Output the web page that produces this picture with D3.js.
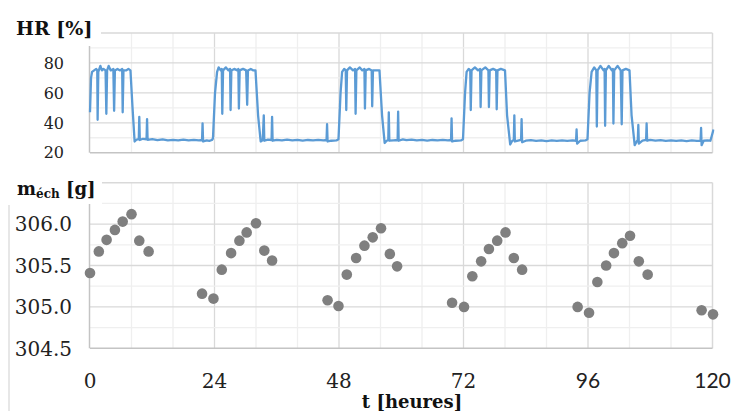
<!DOCTYPE html>
<html><head><meta charset="utf-8">
<script src="https://cdn.jsdelivr.net/npm/d3@7"></script>
<style>body{margin:0;background:#fff}svg{display:block}</style>
</head><body>
<svg id="c" width="733" height="411"></svg>
<script>
// ---------- data ----------
const timeTicks = [0, 24, 48, 72, 96, 120];
const timeGrid = [8, 16, 24, 32, 40, 48, 56, 64, 72, 80, 88, 96, 104, 112];
const hrTicks = [20, 40, 60, 80];
const hrGrid = [30, 40, 50, 60, 70, 80, 90];
const massTicks = [304.5, 305.0, 305.5, 306.0];
const massGrid = [304.75, 305.0, 305.25, 305.5, 305.75, 306.0, 306.25];

const massTime  = [0, 1.7, 3.2, 4.8, 6.3, 8.0, 9.5, 11.3,
                   21.6, 23.8, 25.4, 27.2, 28.8, 30.2, 32.0, 33.6, 35.1,
                   45.8, 47.9, 49.5, 51.3, 52.9, 54.5, 56.1, 57.8, 59.2,
                   69.8, 72.1, 73.7, 75.4, 76.9, 78.5, 80.1, 81.7, 83.3,
                   94.0, 96.2, 97.8, 99.5, 101.0, 102.6, 104.1, 105.8, 107.5,
                   117.9, 120.1];
const massValue = [305.41, 305.67, 305.81, 305.93, 306.03, 306.12, 305.80, 305.67,
                   305.16, 305.10, 305.45, 305.65, 305.80, 305.90, 306.01, 305.68, 305.56,
                   305.08, 305.01, 305.39, 305.59, 305.74, 305.84, 305.95, 305.64, 305.49,
                   305.05, 305.00, 305.37, 305.55, 305.70, 305.80, 305.90, 305.59, 305.45,
                   305.00, 304.93, 305.30, 305.50, 305.65, 305.77, 305.86, 305.55, 305.39,
                   304.96, 304.91];

// HR [%] trace: [t (h), HR]
const hrPoints = [
 [0,47],[0.2,70],[0.4,74],[0.8,75],[1.2,76],[1.4,75],[1.47,42],[1.6,74],[2.0,78],[2.3,75],[2.6,76],[3.0,75],
 [3.15,46],[3.3,75],[3.6,78],[4.0,75],[4.5,76],[4.65,48],[4.8,75],[5.3,76],[5.8,75],[6.2,76],[6.3,47],[6.45,75],
 [7.0,75],[7.4,76],[7.8,75],[8.2,50],[8.6,27.5],[9.0,28.8],[9.4,29],[9.5,44],[9.6,28.5],[10.2,29.3],[10.9,29],
 [11.0,42.5],[11.1,28.6],[12,29],[13,28.4],[14,28.9],[15,28.3],[16,28.6],[17,28.2],[18,28.7],[19,28.3],[20,28.6],
 [21,28.3],[21.6,28.5],[21.7,39.6],[21.8,27.5],[22.5,28.2],[23.0,27.9],[23.5,28.5],[23.7,29.5],[24.1,60],[24.5,74],
 [24.8,77],[25.2,75],[25.4,76],[25.5,46],[25.65,75],[26.2,77],[26.7,75],[27.0,76],[27.1,48.5],[27.25,75],[27.8,76],
 [28.4,75],[28.6,76],[28.7,49.5],[28.85,75],[29.5,76],[30.1,75],[30.3,52],[30.45,75],[31.0,76],[31.5,75],[31.9,75],
 [32.4,45],[32.9,27.5],[33.3,28.5],[33.5,45],[33.6,28],[34.3,28.7],[35.0,28.5],[35.1,44],[35.2,28],[36,28.6],
 [37,28.2],[38,28.7],[39,28.3],[40,28.6],[41,28.1],[42,28.5],[43,28.2],[44,28.6],[45,28.3],[45.6,28.5],[45.7,39],
 [45.8,27.5],[46.5,28],[47.5,28.2],[47.9,29],[48.3,60],[48.6,74],
 [49.0,76],[49.3,75],[49.4,48.5],[49.55,75],[50.1,77],[50.7,75],[51.1,76],[51.2,46],[51.35,75],[52.0,77],[52.5,75],
 [52.9,76],[53.0,49.5],[53.15,75],[53.8,76],[54.3,75],[54.4,51],[54.55,75],[55.2,75],[55.8,75],[56.3,45],[56.8,26.5],
 [57.2,28],[57.5,28.5],[57.6,47],[57.7,28],[58.5,28.3],[59.3,28.5],[59.4,47.5],[59.5,28],[60.3,28.9],[61,28.4],
 [62,28.7],[63,28.2],[64,28.6],[65,28.1],[66,28.5],[67,28.2],[68,28.6],[69,28.3],[69.6,28.5],[69.7,43],[69.8,27.5],
 [70.5,28],[71.5,28.2],[71.9,29],[72.3,60],[72.6,74],
 [73.0,76],[73.3,75],[73.4,48.5],[73.55,75],[74.2,77],[74.8,75],[75.2,76],[75.3,50.5],[75.45,75],[76.2,77],[76.8,75],
 [76.9,50.5],[77.05,75],[77.7,76],[78.3,75],[78.4,49],[78.55,75],[79.2,76],[80.0,75],[80.4,45],[81.0,25.5],[81.4,28],
 [81.7,28.5],[81.8,45],[81.9,27.5],[82.5,28],[83.1,28.5],[83.2,42.5],[83.3,27],[84,28],[85,28.4],[86,27.9],[87,28.3],
 [88,27.8],[89,28.2],[90,27.9],[91,28.3],[92,27.9],[93,28.2],[93.7,28],[93.8,35.5],[93.9,26],[94.5,28],[95.5,28.2],
 [95.9,29],[96.3,60],[96.7,74],
 [97.2,77],[97.6,75],[97.7,37.5],[97.85,75],[98.4,78],[99.0,75],[99.2,76],[99.3,38],[99.45,75],[100.0,78],[100.6,75],
 [100.8,76],[100.9,39.5],[101.05,75],[101.7,78],[102.3,75],[102.5,39],[102.65,75],[103.3,76],[104.0,75],[104.4,45],
 [105.0,25],[105.4,27.5],[105.6,28.5],[105.7,38.5],[105.8,26],[106.5,28],[107.2,28.5],[107.3,39.5],[107.4,28],
 [108,28.5],[109,28.1],[110,28.4],[111,27.9],[112,28.3],[113,27.9],[114,28.2],[115,27.8],[116,28.2],[117,27.9],
 [117.7,28],[117.8,36.5],[117.9,25],[118.3,28],[119.0,28.2],[119.6,28],[120.2,35.5]
];

// ---------- drawing ----------
const svg = d3.select('#c');
const x = d3.scaleLinear().domain([0, 120]).range([90, 712.5]);
const yHR = d3.scaleLinear().domain([20, 100]).range([152.7, 33]);
const yM = d3.scaleLinear().domain([304.5, 306.5]).range([348.3, 182.7]);

const MAJ = '#d9d9d9', MIN = '#efefef', AX = '#c4c4c4';
const serif = '"DejaVu Serif", serif';

function panel(y, grid, isMajor) {
  const g = svg.append('g');
  const [y0, y1] = y.range();
  g.selectAll('.vg').data(timeGrid).join('line')
    .attr('x1', d => x(d)).attr('x2', d => x(d)).attr('y1', y1).attr('y2', y0)
    .attr('stroke', d => d % 24 === 0 ? MAJ : MIN).attr('stroke-width', 1.3);
  g.selectAll('.hg').data(grid).join('line')
    .attr('x1', x(0)).attr('x2', x(120)).attr('y1', d => y(d)).attr('y2', d => y(d))
    .attr('stroke', d => isMajor(d) ? MAJ : MIN).attr('stroke-width', 1.3);
  g.append('line').attr('x1', x(0)).attr('x2', x(120)).attr('y1', y1).attr('y2', y1).attr('stroke', MAJ).attr('stroke-width', 1.5);
  g.append('line').attr('x1', x(120)).attr('x2', x(120)).attr('y1', y1).attr('y2', y0).attr('stroke', MAJ).attr('stroke-width', 1.5);
  g.append('line').attr('x1', x(0)).attr('x2', x(120)).attr('y1', y0).attr('y2', y0).attr('stroke', AX).attr('stroke-width', 1.5);
  g.append('line').attr('x1', x(0) - 0.5).attr('x2', x(0) - 0.5).attr('y1', y1).attr('y2', y0).attr('stroke', AX).attr('stroke-width', 1.5);
  return g;
}

panel(yHR, hrGrid, d => d % 20 === 0);
panel(yM, massGrid, d => Math.abs(d * 2 - Math.round(d * 2)) < 1e-6);

// HR line
svg.append('clipPath').attr('id', 'clipHR').append('rect')
  .attr('x', x(0) - 2).attr('y', yHR(100)).attr('width', x(120) - x(0) + 4).attr('height', yHR(20) - yHR(100));
svg.append('path').datum(hrPoints)
  .attr('clip-path', 'url(#clipHR)')
  .attr('fill', 'none').attr('stroke', '#5b9bd5').attr('stroke-width', 2.3)
  .attr('stroke-linejoin', 'round')
  .attr('d', d3.line().x(d => x(d[0])).y(d => yHR(d[1])));

// mass points
svg.append('g').selectAll('circle').data(massTime).join('circle')
  .attr('cx', d => x(d)).attr('cy', (d, i) => yM(massValue[i])).attr('r', 5.3)
  .attr('fill', '#7f7f7f');

// title boxes (white)
svg.append('rect').attr('x', 10).attr('y', 8).attr('width', 91).attr('height', 38).attr('fill', '#fff');
svg.append('rect').attr('x', 10).attr('y', 170).attr('width', 92).attr('height', 34).attr('fill', '#fff');

// stray vertical line at far left of the lower panel
svg.append('line').attr('x1', 9).attr('x2', 9).attr('y1', 205).attr('y2', 411).attr('stroke', '#cfcfcf').attr('stroke-width', 1);

// y tick labels
svg.append('g').selectAll('text').data(hrTicks).join('text')
  .attr('x', 64).attr('y', d => yHR(d)).attr('dy', '0.36em')
  .attr('text-anchor', 'end').attr('font-family', serif).attr('font-size', 16).attr('fill', '#222')
  .text(d => d);
svg.append('g').selectAll('text').data(massTicks).join('text')
  .attr('x', 72).attr('y', d => yM(d)).attr('dy', '0.36em')
  .attr('text-anchor', 'end').attr('font-family', serif).attr('font-size', 20).attr('fill', '#222')
  .text(d => d.toFixed(1));
// x tick labels
svg.append('g').selectAll('text').data(timeTicks).join('text')
  .attr('x', d => x(d)).attr('y', 380.5).attr('dy', '0.36em')
  .attr('text-anchor', 'middle')
  .attr('font-family', d => d >= 96 ? 'Lato, "Noto Sans", sans-serif' : serif)
  .attr('font-size', d => d >= 96 ? 21 : 20).attr('fill', '#222')
  .text(d => d);

// titles
svg.append('text').attr('x', 16).attr('y', 35).attr('font-family', serif).attr('font-weight', 'bold')
  .attr('font-size', 19).attr('fill', '#111').text('HR [%]');
const mt = svg.append('text').attr('x', 17).attr('y', 195).attr('font-family', serif).attr('font-weight', 'bold')
  .attr('font-size', 18).attr('fill', '#111');
mt.append('tspan').text('m');
mt.append('tspan').attr('font-size', 12).attr('dy', 3).text('éch');
mt.append('tspan').attr('dy', -3).text(' [g]');
svg.append('text').attr('x', 412).attr('y', 407.5).attr('text-anchor', 'middle').attr('font-family', serif)
  .attr('font-weight', 'bold').attr('font-size', 18).attr('fill', '#111').text('t [heures]');
</script>
</body></html>
